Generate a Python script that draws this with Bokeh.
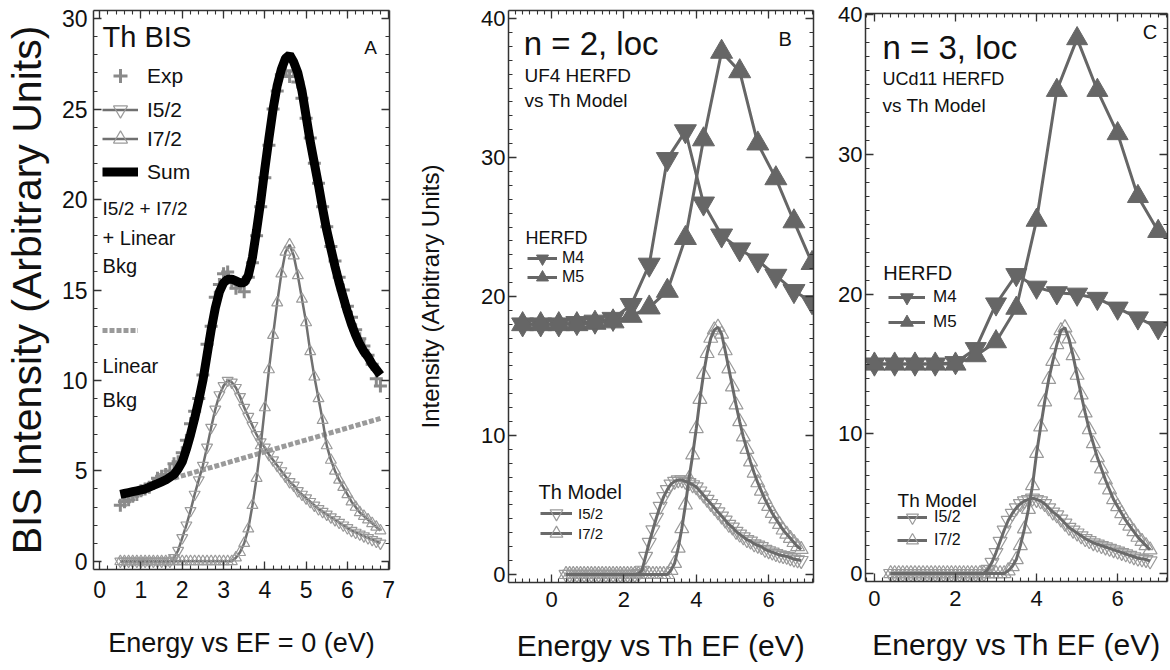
from bokeh.plotting import figure
from bokeh.layouts import row
from bokeh.models import (Legend, LegendItem, Label, LinearAxis, SingleIntervalTicker, Range1d,
                          CustomJSTickFormatter)
from bokeh.embed import file_html
from bokeh.resources import INLINE

SANS = "Liberation Sans"

# ---------------- Panel A data (Th BIS) ----------------
a_energy = [0.5, 0.6, 0.7, 0.8, 0.9, 1.0, 1.1, 1.2, 1.3, 1.4,
            1.5, 1.6, 1.7, 1.8, 1.9, 2.0, 2.1, 2.2, 2.3, 2.4,
            2.5, 2.6, 2.7, 2.8, 2.9, 3.0, 3.1, 3.2, 3.3, 3.4,
            3.5, 3.6, 3.7, 3.8, 3.9, 4.0, 4.1, 4.2, 4.3, 4.4,
            4.5, 4.6, 4.7, 4.8, 4.9, 5.0, 5.1, 5.2, 5.3, 5.4,
            5.5, 5.6, 5.7, 5.8, 5.9, 6.0, 6.1, 6.2, 6.3, 6.4,
            6.5, 6.6, 6.7, 6.8]
a_exp = [3.1, 3.3, 3.4, 3.6, 3.7, 3.9, 4.0, 4.1, 4.3, 4.6,
         4.7, 4.8, 5.0, 5.4, 5.5, 6.0, 6.7, 7.6, 8.3, 9.0,
         10.3, 12.0, 13.0, 14.6, 15.3, 15.9, 16.0, 15.4, 15.1, 15.3,
         14.9, 15.7, 16.5, 18.0, 19.6, 21.2, 23.0, 25.0, 26.0, 26.9,
         27.1, 26.8, 27.1, 26.5, 25.6, 24.5, 23.4, 22.0, 20.9, 19.6,
         18.5, 17.4, 16.6, 15.7, 15.0, 14.1, 13.5, 12.8, 12.3, 11.9,
         11.4, 10.9, 10.1, 9.7]
a_i52 = [0, 0, 0, 0, 0, 0, 0, 0, 0, 0,
         0, 0, 0, 0.2, 0.6, 1.3, 2.0, 2.8, 3.7, 4.5,
         5.3, 6.3, 7.4, 8.4, 9.2, 9.7, 10.0, 9.9, 9.6, 9.1,
         8.5, 8.0, 7.5, 7.0, 6.6, 6.3, 5.9, 5.6, 5.3, 5.0,
         4.7, 4.4, 4.2, 3.9, 3.7, 3.5, 3.3, 3.1, 2.9, 2.75,
         2.6, 2.45, 2.3, 2.15, 2.0, 1.85, 1.7, 1.6, 1.5, 1.4,
         1.3, 1.2, 1.1, 1.0]
a_i72 = [0, 0, 0, 0, 0, 0, 0, 0, 0, 0,
         0, 0, 0, 0, 0, 0, 0, 0, 0, 0,
         0, 0, 0, 0, 0, 0, 0, 0, 0.2, 0.5,
         1.0, 1.8, 3.1, 4.6, 6.4, 8.5, 10.6, 12.5, 14.3, 15.9,
         17.1, 17.5, 16.9, 15.8, 14.5, 13.2, 11.6, 10.2, 9.0, 7.8,
         6.4, 5.6, 5.0, 4.5, 4.1, 3.7, 3.3, 3.0, 2.7, 2.5,
         2.3, 2.1, 1.9, 1.7]
a_sum = [3.7, 3.75, 3.8, 3.85, 3.9, 3.95, 4.0, 4.1, 4.2, 4.3,
         4.4, 4.5, 4.65, 4.8, 5.1, 5.5, 6.2, 7.0, 7.9, 8.9,
         10.0, 11.4, 12.8, 14.0, 14.9, 15.4, 15.6, 15.6, 15.5, 15.4,
         15.4, 15.8, 16.8, 18.3, 19.9, 21.7, 23.4, 25.0, 26.3, 27.2,
         27.8, 28.0, 27.6, 27.0, 26.0, 24.6, 23.2, 22.0, 20.8, 19.5,
         18.3, 17.3, 16.3, 15.4, 14.6, 13.8, 13.1, 12.5, 12.0, 11.6,
         11.3, 10.9, 10.6, 10.3]
a_bkg_energy = [1.8, 6.8]
a_bkg = [4.6, 7.9]

# ---------------- Panel B data (n = 2, UF4) ----------------
b_herfd_energy = [-0.8, -0.3, 0.2, 0.7, 1.2, 1.7, 2.2, 2.7, 3.2, 3.7, 4.2, 4.7, 5.2, 5.7, 6.2, 6.7, 7.2]
b_m4 = [18.0, 18.0, 18.0, 18.1, 18.2, 18.4, 19.4, 22.3, 29.9, 31.9, 26.7, 24.4, 23.4, 22.6, 21.5, 20.4, 19.6]
b_m5 = [18.0, 18.0, 18.0, 18.0, 18.1, 18.2, 18.6, 19.2, 20.4, 24.2, 31.3, 37.6, 36.2, 31.0, 28.5, 25.4, 22.4]
b_model_energy = [0.4, 0.5, 0.6, 0.7, 0.8, 0.9, 1.0, 1.1, 1.2, 1.3,
                  1.4, 1.5, 1.6, 1.7, 1.8, 1.9, 2.0, 2.1, 2.2, 2.3,
                  2.4, 2.5, 2.6, 2.7, 2.8, 2.9, 3.0, 3.1, 3.2, 3.3,
                  3.4, 3.5, 3.6, 3.7, 3.8, 3.9, 4.0, 4.1, 4.2, 4.3,
                  4.4, 4.5, 4.6, 4.7, 4.8, 4.9, 5.0, 5.1, 5.2, 5.3,
                  5.4, 5.5, 5.6, 5.7, 5.8, 5.9, 6.0, 6.1, 6.2, 6.3,
                  6.4, 6.5, 6.6, 6.7, 6.8, 6.9]
b_i52 = [0, 0, 0, 0, 0, 0, 0, 0, 0, 0,
         0, 0, 0, 0, 0, 0, 0, 0, 0, 0,
         0.05, 0.3, 1.3, 2.3, 3.2, 4.1, 4.9, 5.6, 6.1, 6.5,
         6.7, 6.8, 6.8, 6.7, 6.6, 6.45, 6.3, 6.0, 5.7, 5.4,
         5.1, 4.8, 4.5, 4.2, 3.9, 3.6, 3.4, 3.1, 2.9, 2.7,
         2.5, 2.4, 2.2, 2.1, 2.0, 1.8, 1.7, 1.6, 1.5, 1.4,
         1.35, 1.3, 1.2, 1.1, 1.05, 1.0]
b_i72 = [0, 0, 0, 0, 0, 0, 0, 0, 0, 0,
         0, 0, 0, 0, 0, 0, 0, 0, 0, 0,
         0, 0, 0, 0, 0, 0, 0, 0, 0, 0.3,
         0.8, 1.9, 3.3, 5.0, 6.9, 8.6, 10.5, 12.6, 14.4, 15.9,
         17.0, 17.6, 17.8, 17.3, 16.1, 14.8, 13.5, 12.2, 11.0, 9.9,
         9.0, 8.1, 7.3, 6.6, 6.0, 5.4, 4.9, 4.4, 4.0, 3.6,
         3.2, 2.9, 2.6, 2.3, 2.0, 1.8]

# ---------------- Panel C data (n = 3, UCd11) ----------------
c_herfd_energy = [0.0, 0.5, 1.0, 1.5, 2.0, 2.5, 3.0, 3.5, 4.0, 4.5, 5.0, 5.5, 6.0, 6.5, 7.0]
c_m4 = [15.0, 15.0, 15.0, 15.0, 15.1, 16.1, 19.3, 21.4, 20.5, 20.1, 20.0, 19.7, 19.0, 18.3, 17.6]
c_m5 = [15.0, 15.0, 15.0, 15.0, 15.0, 15.6, 16.6, 19.0, 25.3, 34.6, 38.3, 34.6, 31.5, 27.0, 24.5]
c_model_energy = [0.4, 0.5, 0.6, 0.7, 0.8, 0.9, 1.0, 1.1, 1.2, 1.3,
                  1.4, 1.5, 1.6, 1.7, 1.8, 1.9, 2.0, 2.1, 2.2, 2.3,
                  2.4, 2.5, 2.6, 2.7, 2.8, 2.9, 3.0, 3.1, 3.2, 3.3,
                  3.4, 3.5, 3.6, 3.7, 3.8, 3.9, 4.0, 4.1, 4.2, 4.3,
                  4.4, 4.5, 4.6, 4.7, 4.8, 4.9, 5.0, 5.1, 5.2, 5.3,
                  5.4, 5.5, 5.6, 5.7, 5.8, 5.9, 6.0, 6.1, 6.2, 6.3,
                  6.4, 6.5, 6.6, 6.7, 6.8]
c_i52 = [0, 0, 0, 0, 0, 0, 0, 0, 0, 0,
         0, 0, 0, 0, 0, 0, 0, 0, 0, 0,
         0, 0, 0, 0, 0.3, 0.8, 1.5, 2.3, 3.1, 3.8,
         4.3, 4.7, 5.0, 5.2, 5.3, 5.4, 5.3, 5.2, 5.0, 4.7,
         4.4, 4.2, 3.9, 3.6, 3.3, 3.1, 2.9, 2.7, 2.5, 2.35,
         2.2, 2.1, 2.0, 1.9, 1.8, 1.7, 1.6, 1.5, 1.4, 1.3,
         1.2, 1.1, 1.05, 1.0, 0.9]
c_i72 = [0, 0, 0, 0, 0, 0, 0, 0, 0, 0,
         0, 0, 0, 0, 0, 0, 0, 0, 0, 0,
         0, 0, 0, 0, 0, 0, 0, 0, 0, 0.2,
         0.5, 1.0, 2.0, 3.2, 4.6, 6.3, 8.6, 10.5, 12.3, 13.9,
         15.2, 16.4, 17.4, 17.6, 16.8, 15.6, 14.2, 12.8, 11.5, 10.3,
         9.3, 8.3, 7.5, 6.7, 6.0, 5.3, 4.8, 4.3, 3.8, 3.4,
         3.0, 2.6, 2.3, 2.0, 1.7]

AX = "#333333"
FIG_H = 670


def make_fig(width, borders, xr, yr, xint, xminor, yint, yminor, tick_fs,
             x_label, y_label, xlab_fs, ylab_fs, xlab_stand, ylab_stand,
             xtick_stand, ytick_stand):
    left, right, top, bottom = borders
    p = figure(width=width, height=FIG_H, x_range=Range1d(*xr), y_range=Range1d(*yr),
               min_border_left=left, min_border_right=right, min_border_top=top,
               min_border_bottom=bottom, toolbar_location=None, output_backend="svg",
               frame_align=False)
    p.xgrid.visible = False
    p.ygrid.visible = False
    p.outline_line_color = None
    p.xaxis.ticker = SingleIntervalTicker(interval=xint, num_minor_ticks=xminor)
    p.yaxis.ticker = SingleIntervalTicker(interval=yint, num_minor_ticks=yminor)
    p.xaxis.axis_label = x_label
    p.yaxis.axis_label = y_label
    p.xaxis.axis_label_text_font_size = xlab_fs
    p.yaxis.axis_label_text_font_size = ylab_fs
    p.xaxis.axis_label_standoff = xlab_stand
    p.yaxis.axis_label_standoff = ylab_stand
    p.xaxis.major_label_standoff = xtick_stand
    p.yaxis.major_label_standoff = ytick_stand
    for ax in [p.xaxis[0], p.yaxis[0]]:
        ax.axis_label_text_font = SANS
        ax.axis_label_text_font_style = "normal"
        ax.axis_label_text_color = "#111111"
        ax.major_label_text_font = SANS
        ax.major_label_text_font_size = tick_fs
        ax.major_label_text_color = "#111111"
    for loc, interval, nminor in (("above", xint, xminor), ("right", yint, yminor)):
        ax = LinearAxis(ticker=SingleIntervalTicker(interval=interval, num_minor_ticks=nminor),
                        formatter=CustomJSTickFormatter(code="return ''"),
                        major_label_standoff=0)
        p.add_layout(ax, loc)
    for ax in p.axis:
        ax.axis_line_color = AX
        ax.axis_line_width = 1.5
        ax.major_tick_line_color = AX
        ax.minor_tick_line_color = AX
        ax.major_tick_line_width = 1.3
        ax.minor_tick_line_width = 1.1
        ax.major_tick_in = 8
        ax.major_tick_out = 0
        ax.minor_tick_in = 4
        ax.minor_tick_out = 0
    return p


def key(p, label, renderers, vx, vy, gw, gh, fs, standoff):
    """One legend entry; (vx, vy) = bottom-left of its box, in px from the frame's bottom-left."""
    lg = Legend(items=[LegendItem(label=label, renderers=renderers)], location=(vx, vy),
                label_text_font=SANS, label_text_font_size=fs, label_text_color="#111111",
                glyph_width=gw, glyph_height=gh, label_height=10, spacing=0,
                label_standoff=standoff, padding=0, margin=0,
                border_line_color=None, background_fill_alpha=0)
    p.add_layout(lg)


def txt(p, x, y, text, size, align="left"):
    p.add_layout(Label(x=x, y=y, text=text, text_font=SANS, text_font_size=size,
                       text_baseline="middle", text_align=align, text_color="#111111"))


# ---------------- Panel A ----------------
pA = make_fig(400, (91, 11, 10, 101), (-0.15, 7.02), (-0.45, 30.45), 1, 5, 5, 5, "23px",
              "Energy vs EF = 0 (eV)", "BIS Intensity (Arbitrary Units)", "27px", "41px",
              27, 9, 11, 6)

a_exp_r = pA.scatter(a_energy, a_exp, marker="cross", size=13, line_color="#8a8a8a", line_width=3)
a_bkg_r = pA.line(a_bkg_energy, a_bkg, line_color="#9a9a9a", line_width=5, line_dash="5 2")
a_sum_r = pA.line(a_energy, a_sum, line_color="black", line_width=9)
a_i52_l = pA.line(a_energy, a_i52, line_color="#707070", line_width=2.5)
a_i52_m = pA.scatter(a_energy, a_i52, marker="inverted_triangle", size=11, fill_color=None,
                     line_color="#9a9a9a", line_width=1.2)
a_i72_l = pA.line(a_energy, a_i72, line_color="#707070", line_width=2.5)
a_i72_m = pA.scatter(a_energy, a_i72, marker="triangle", size=11, fill_color=None,
                     line_color="#9a9a9a", line_width=1.2)

txt(pA, 0.07, 29.0, "Th BIS", "29px")
key(pA, "Exp", [a_exp_r], 9, 476, 36, 35, "21px", 9)
key(pA, "I5/2", [a_i52_l, a_i52_m], 9, 442, 36, 35, "21px", 9)
key(pA, "I7/2", [a_i72_l, a_i72_m], 9, 413, 36, 35, "21px", 9)
key(pA, "Sum", [a_sum_r], 9, 380, 36, 35, "21px", 9)
key(pA, " ", [a_bkg_r], 9, 226, 36, 26, "21px", 9)
txt(pA, 0.07, 19.5, "I5/2 + I7/2", "19px")
txt(pA, 0.07, 17.9, "+ Linear", "20px")
txt(pA, 0.07, 16.3, "Bkg", "20px")
txt(pA, 0.07, 10.8, "Linear", "20px")
txt(pA, 0.07, 8.9, "Bkg", "20px")
txt(pA, 6.56, 28.4, "A", "19px", align="center")

# ---------------- Panel B ----------------
pB = make_fig(420, (108, 7, 10, 88), (-1.19, 7.24), (-0.58, 40.58), 2, 10, 10, 10, "22px",
              "Energy vs Th EF (eV)", "Intensity (Arbitrary Units)", "30px", "24px",
              19, 34, 9, 3)

b_m4_r = pB.line(b_herfd_energy, b_m4, line_color="#666666", line_width=3)
b_m4_s = pB.scatter(b_herfd_energy, b_m4, marker="inverted_triangle", size=22,
                    fill_color="#666666", line_color="#666666")
b_m5_r = pB.line(b_herfd_energy, b_m5, line_color="#666666", line_width=3)
b_m5_s = pB.scatter(b_herfd_energy, b_m5, marker="triangle", size=22,
                    fill_color="#666666", line_color="#666666")
b_i52_m = pB.scatter(b_model_energy, b_i52, marker="inverted_triangle", size=14, fill_color=None,
                     line_color="#9a9a9a", line_width=1.2)
b_i72_m = pB.scatter(b_model_energy, b_i72, marker="triangle", size=14, fill_color=None,
                     line_color="#9a9a9a", line_width=1.2)
b_i52_l = pB.line(b_model_energy, b_i52, line_color="#6a6a6a", line_width=3)
b_i72_l = pB.line(b_model_energy, b_i72, line_color="#6a6a6a", line_width=3)

txt(pB, -0.77, 38.2, "n = 2, loc", "33px")
txt(pB, -0.75, 35.9, "UF4 HERFD", "19px")
txt(pB, -0.75, 34.1, "vs Th Model", "19px")
txt(pB, 6.46, 38.5, "B", "20px", align="center")
txt(pB, -0.72, 24.2, "HERFD", "18px")
key(pB, "M4", [b_m4_r, b_m4_s], 19, 308, 30, 32, "16px", 5)
key(pB, "M5", [b_m5_r, b_m5_s], 19, 289, 30, 32, "16px", 5)
txt(pB, -0.36, 5.9, "Th Model", "20px")
key(pB, "I5/2", [b_i52_l, b_i52_m], 32, 53, 32, 32, "15px", 6)
key(pB, "I7/2", [b_i72_l, b_i72_m], 32, 33, 32, 32, "15px", 6)

# ---------------- Panel C ----------------
pC = make_fig(350, (45, 3, 13, 89), (-0.22, 7.23), (-0.57, 40.1), 2, 10, 10, 10, "22px",
              "Energy vs Th EF (eV)", None, "30px", "24px",
              19, 10, 9, 3)

c_m4_r = pC.line(c_herfd_energy, c_m4, line_color="#666666", line_width=3)
c_m4_s = pC.scatter(c_herfd_energy, c_m4, marker="inverted_triangle", size=21,
                    fill_color="#666666", line_color="#666666")
c_m5_r = pC.line(c_herfd_energy, c_m5, line_color="#666666", line_width=3)
c_m5_s = pC.scatter(c_herfd_energy, c_m5, marker="triangle", size=21,
                    fill_color="#666666", line_color="#666666")
c_i52_m = pC.scatter(c_model_energy, c_i52, marker="inverted_triangle", size=14, fill_color=None,
                     line_color="#9a9a9a", line_width=1.2)
c_i72_m = pC.scatter(c_model_energy, c_i72, marker="triangle", size=14, fill_color=None,
                     line_color="#9a9a9a", line_width=1.2)
c_i52_l = pC.line(c_model_energy, c_i52, line_color="#6a6a6a", line_width=3)
c_i72_l = pC.line(c_model_energy, c_i72, line_color="#6a6a6a", line_width=3)

txt(pC, 0.2, 37.7, "n = 3, loc", "33px")
txt(pC, 0.2, 35.4, "UCd11 HERFD", "18px")
txt(pC, 0.2, 33.5, "vs Th Model", "19px")
txt(pC, 6.8, 38.8, "C", "20px", align="center")
txt(pC, 0.22, 21.5, "HERFD", "20px")
key(pC, "M4", [c_m4_r, c_m4_s], 23, 268, 37, 32, "17px", 8)
key(pC, "M5", [c_m5_r, c_m5_s], 23, 243, 37, 32, "17px", 8)
txt(pC, 0.57, 5.2, "Th Model", "19px")
key(pC, "I5/2", [c_i52_l, c_i52_m], 32, 48, 30, 32, "16px", 7)
key(pC, "I7/2", [c_i72_l, c_i72_m], 32, 25, 30, 32, "16px", 7)

layout = row(pA, pB, pC, spacing=0)
open("out.html", "w").write(file_html(layout, INLINE))
